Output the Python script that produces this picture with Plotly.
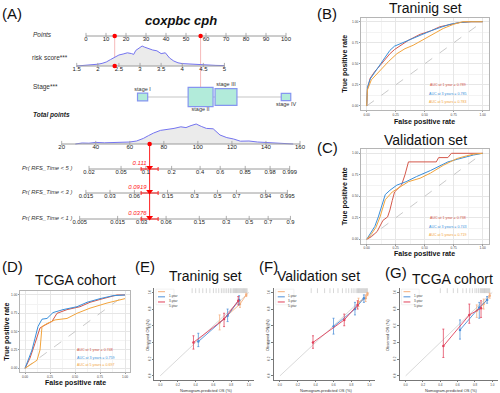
import math
import plotly.graph_objects as go

W, H = 500, 393
FONT = "Liberation Sans"

# ---------------- (A) nomogram data ----------------
points_ticks = [0, 10, 20, 30, 40, 50, 60, 70, 80, 90, 100]
risk_ticks = [1.5, 2, 2.5, 3, 3.5, 4, 4.5, 5]
risk_points_per_unit = 21.1
risk_zero_value = 1.72
risk_density_x = [1.5, 1.7, 1.9, 2.0, 2.1, 2.2, 2.3, 2.4, 2.5, 2.6, 2.7, 2.8, 2.85, 2.9, 3.0, 3.05,
                  3.1, 3.2, 3.3, 3.4, 3.5, 3.6, 3.65, 3.7, 3.8, 3.9, 4.0, 4.2, 4.4, 4.6, 4.8, 5.0]
risk_density_y = [0.0, 0.03, 0.06, 0.09, 0.13, 0.2, 0.32, 0.45, 0.55, 0.6, 0.66, 0.62, 0.58, 0.78, 0.92, 1.0,
                  0.95, 0.86, 0.8, 0.76, 0.62, 0.66, 0.55, 0.4, 0.25, 0.16, 0.12, 0.09, 0.07, 0.05, 0.03, 0.02]
stage_names = ["stage I", "stage II", "stage III", "stage IV"]
stage_points = [28.3, 57.3, 70.0, 100.0]
stage_share = [0.08, 0.48, 0.37, 0.07]
total_ticks = [20, 40, 60, 80, 100, 120, 140, 160]
total_density_x = [28, 32, 36, 40, 45, 50, 55, 60, 64, 68, 71, 74, 78, 82, 86, 90, 93, 96, 99, 102,
                   105, 109, 113, 117, 121, 125, 130, 135, 140, 145, 150, 156]
total_density_y = [0.0, 0.05, 0.04, 0.08, 0.06, 0.08, 0.07, 0.1, 0.15, 0.28, 0.42, 0.55, 0.68, 0.72, 0.78, 0.86,
                   0.82, 0.92, 1.0, 0.88, 0.78, 0.76, 0.45, 0.32, 0.25, 0.14, 0.15, 0.1, 0.07, 0.07, 0.03, 0.0]
patient_risk = 2.4
patient_stage = "stage II"
patient_total_ci = 5.0
prob_row_names = ["Pr( RFS_Time < 5 )", "Pr( RFS_Time < 3 )", "Pr( RFS_Time < 1 )"]
prob_row_pred = [0.111, 0.0919, 0.0376]
prob_row_pred_text = ["0.111", "0.0919", "0.0376"]
prob_row_ticks = [
    [0.02, 0.05, 0.1, 0.2, 0.4, 0.6, 0.85, 0.98, 0.999],
    [0.015, 0.03, 0.06, 0.15, 0.3, 0.5, 0.7, 0.94, 0.995],
    [0.005, 0.015, 0.03, 0.06, 0.15, 0.3, 0.5, 0.7, 0.9],
]
cox_beta_per_total_point = 0.0495

# ---------------- ROC data ----------------
roc_labels = ["AUC at 1 year = ", "AUC at 3 years = ", "AUC at 5 years = "]
# (B) training
b_fpr_1 = [0, 0, 0.006, 0.03, 0.07, 0.115, 0.16, 0.2, 0.24, 0.29, 0.36, 0.46, 0.55, 0.63, 0.72, 0.8, 0.9, 1.0]
b_tpr_1 = [0, 0.1, 0.2, 0.33, 0.41, 0.48, 0.56, 0.62, 0.67, 0.72, 0.78, 0.85, 0.89, 0.94, 0.97, 0.99, 1.0, 1.0]
b_fpr_3 = [0, 0, 0.006, 0.03, 0.07, 0.115, 0.16, 0.2, 0.24, 0.29, 0.36, 0.46, 0.55, 0.63, 0.72, 0.8, 0.9, 1.0]
b_tpr_3 = [0, 0.12, 0.22, 0.32, 0.40, 0.50, 0.58, 0.66, 0.71, 0.74, 0.78, 0.84, 0.89, 0.93, 0.97, 0.99, 1.0, 1.0]
b_fpr_5 = [0, 0, 0.006, 0.04, 0.08, 0.115, 0.19, 0.26, 0.33, 0.4, 0.45, 0.55, 0.66, 0.75, 0.83, 0.9, 1.0]
b_tpr_5 = [0, 0.1, 0.19, 0.31, 0.37, 0.43, 0.53, 0.62, 0.68, 0.72, 0.76, 0.84, 0.92, 0.97, 1.0, 1.0, 1.0]
b_auc = ["0.789", "0.785", "0.783"]
# (C) validation
c_fpr_1 = [0, 0.04, 0.09, 0.14, 0.18, 0.2, 0.22, 0.24, 0.3, 0.33, 0.36, 0.45, 0.6, 0.62, 0.7, 0.73, 1.0]
c_tpr_1 = [0, 0.03, 0.09, 0.22, 0.26, 0.34, 0.45, 0.55, 0.63, 0.75, 0.9, 0.9, 0.9, 0.95, 0.95, 1.0, 1.0]
c_fpr_3 = [0, 0.03, 0.07, 0.1, 0.13, 0.16, 0.2, 0.26, 0.34, 0.43, 0.55, 0.63, 0.7, 0.78, 0.86, 0.92, 1.0]
c_tpr_3 = [0, 0.07, 0.15, 0.26, 0.4, 0.52, 0.57, 0.63, 0.67, 0.73, 0.8, 0.85, 0.9, 0.93, 0.96, 0.98, 1.0]
c_fpr_5 = [0, 0.04, 0.08, 0.115, 0.16, 0.22, 0.29, 0.36, 0.46, 0.55, 0.66, 0.72, 0.78, 0.86, 0.92, 1.0]
c_tpr_5 = [0, 0.06, 0.14, 0.26, 0.46, 0.55, 0.61, 0.67, 0.71, 0.77, 0.86, 0.9, 0.94, 0.97, 0.99, 1.0]
c_auc = ["0.738", "0.743", "0.719"]
# (D) TCGA
d_fpr_1 = [0, 0.05, 0.1, 0.15, 0.2, 0.27, 0.32, 0.42, 0.55, 0.65, 0.78, 0.92, 1.0]
d_tpr_1 = [0, 0.14, 0.34, 0.55, 0.59, 0.64, 0.75, 0.8, 0.84, 0.9, 0.95, 1.0, 1.0]
d_fpr_3 = [0, 0.03, 0.07, 0.1, 0.13, 0.17, 0.22, 0.28, 0.38, 0.52, 0.62, 0.75, 0.88, 1.0]
d_tpr_3 = [0, 0.11, 0.25, 0.41, 0.57, 0.67, 0.68, 0.76, 0.8, 0.84, 0.9, 0.95, 0.99, 1.0]
d_fpr_5 = [0, 0.05, 0.12, 0.15, 0.17, 0.22, 0.3, 0.42, 0.52, 0.65, 0.82, 1.0]
d_tpr_5 = [0, 0.05, 0.11, 0.25, 0.57, 0.61, 0.66, 0.68, 0.75, 0.82, 0.89, 0.95]
d_auc = ["0.748", "0.759", "0.697"]

# ---------------- calibration data ----------------
cal_names = ["1-year", "3-year", "5-year"]
# (E) training: predicted, observed, lower, upper
e_pred = [[0.67, 0.90, 0.97], [0.43, 0.76, 0.89], [0.375, 0.72, 0.88]]
e_obs = [[0.64, 0.86, 0.97], [0.41, 0.72, 0.91], [0.40, 0.68, 0.90]]
e_lo = [[0.55, 0.82, 0.95], [0.35, 0.65, 0.85], [0.32, 0.59, 0.85]]
e_hi = [[0.73, 0.90, 0.99], [0.51, 0.80, 0.96], [0.48, 0.75, 0.95]]
e_rug = [0.36, 0.4, 0.44, 0.48, 0.52, 0.56, 0.6, 0.63, 0.66, 0.69, 0.71, 0.73, 0.75, 0.77, 0.79, 0.8,
         0.82, 0.83, 0.84, 0.85, 0.86, 0.87, 0.88, 0.89, 0.9, 0.91, 0.92, 0.93, 0.94, 0.95, 0.96, 0.97, 0.98]
# (F) validation
f_pred = [[0.88, 0.96, 0.98], [0.60, 0.84, 0.94], [0.37, 0.72, 0.87]]
f_obs = [[0.88, 0.93, 0.98], [0.59, 0.80, 0.93], [0.40, 0.67, 0.85]]
f_lo = [[0.83, 0.89, 0.96], [0.50, 0.73, 0.88], [0.33, 0.60, 0.80]]
f_hi = [[0.93, 0.97, 1.0], [0.69, 0.88, 0.97], [0.48, 0.74, 0.90]]
f_rug = [0.35, 0.42, 0.5, 0.56, 0.6, 0.65, 0.7, 0.74, 0.77, 0.8, 0.82, 0.84, 0.86, 0.87, 0.88, 0.89,
         0.9, 0.91, 0.92, 0.93, 0.94, 0.95, 0.96, 0.97, 0.98]
# (G) TCGA
g_pred = [[0.82, 0.90, 0.97], [0.627, 0.85, 0.94], [0.435, 0.735, 0.87]]
g_obs = [[0.78, 0.86, 0.96], [0.55, 0.82, 0.91], [0.356, 0.73, 0.81]]
g_lo = [[0.70, 0.80, 0.93], [0.44, 0.69, 0.87], [0.22, 0.63, 0.70]]
g_hi = [[0.85, 0.92, 0.99], [0.67, 0.88, 0.95], [0.56, 0.86, 0.90]]
g_rug = [0.4, 0.48, 0.55, 0.6, 0.66, 0.7, 0.74, 0.77, 0.8, 0.82, 0.84, 0.86, 0.87, 0.88, 0.89, 0.9,
         0.91, 0.92, 0.93, 0.94, 0.95, 0.96, 0.97]
cal_ticks = [0.0, 0.2, 0.4, 0.6, 0.8, 1.0]
roc_ticks = [0.0, 0.25, 0.5, 0.75, 1.0]

# ---------------- styling / layout constants ----------------
ROC_COLORS = ["#D4584A", "#3A8FDB", "#F2A43C"]
CAL_COLORS = ["#F5AE7C", "#4C8FD8", "#E0405A"]
CAL_ERR = ["rgba(245,174,124,0.75)", "rgba(76,143,216,0.75)", "rgba(224,64,90,0.75)"]
NOMO_BLUE = "#7474F0"
AXGREY = "#9A9A9A"

ROW_Y = {"points": 36, "risk": 66, "stage": 97, "total": 144}
PROB_ROW_Y = [169, 193, 219]
DENS_H = 20
TOTAL_AXIS_PTS = (-12.15, 107.0)
BOX_SCALE = 36.0


def px(x):
    return x / W


def py(y):
    return 1 - y / H


def risk_to_pts(r):
    return risk_points_per_unit * (r - risk_zero_value)


def total_to_pts(tp):
    lo, hi = TOTAL_AXIS_PTS
    return lo + (tp - total_ticks[0]) * (hi - lo) / (total_ticks[-1] - total_ticks[0])


def cloglog(p):
    return math.log(-math.log(1 - p))


def prob_to_total(p, p_ref, tp_ref):
    return tp_ref + (cloglog(p) - cloglog(p_ref)) / cox_beta_per_total_point


fig = go.Figure()
annotations = []
shapes = []


def ann(x, y, text, size, color="black", xanchor="center", yanchor="middle", angle=0, **kw):
    annotations.append(dict(x=px(x), y=py(y), xref="paper", yref="paper", text=text, showarrow=False,
                            font=dict(family=FONT, size=size, color=color), xanchor=xanchor,
                            yanchor=yanchor, textangle=angle, **kw))


NX = dict(xaxis="x", yaxis="y")


def nline(xs, ys, color=AXGREY, width=1, dash=None):
    fig.add_trace(go.Scatter(x=xs, y=ys, mode="lines", line=dict(color=color, width=width, dash=dash),
                             hoverinfo="skip", showlegend=False, **NX))


def ntext(xs, ys, texts, size=6, color="#222"):
    fig.add_trace(go.Scatter(x=xs, y=ys, mode="text", text=texts,
                             textfont=dict(family=FONT, size=size, color=color),
                             hoverinfo="skip", showlegend=False, **NX))


def nticks(xs, y):
    fig.add_trace(go.Scatter(x=xs, y=[y - 1] * len(xs), mode="markers",
                             marker=dict(symbol="line-ns", size=3, line=dict(color=AXGREY, width=0.8)),
                             hoverinfo="skip", showlegend=False, **NX))


def density(xs_pts, heights, base):
    top = [base - DENS_H * h for h in heights]
    fig.add_trace(go.Scatter(x=xs_pts + xs_pts[::-1], y=top + [base] * len(xs_pts), mode="lines",
                             fill="toself", fillcolor="#EBEBEB", line=dict(width=0),
                             hoverinfo="skip", showlegend=False, **NX))
    nline(xs_pts, top, color=NOMO_BLUE, width=1)


# ---- patient values
p_risk_pts = risk_to_pts(patient_risk)
p_stage_pts = stage_points[stage_names.index(patient_stage)]
p_total = p_risk_pts + p_stage_pts
p_total_pts = total_to_pts(p_total)

# pink guide lines
nline([p_risk_pts, p_risk_pts], [ROW_Y["points"], ROW_Y["risk"]], color="#F6B9B9", width=1)
nline([p_stage_pts, p_stage_pts], [ROW_Y["points"], ROW_Y["stage"]], color="#F6B9B9", width=1)

# Points axis
nline([points_ticks[0], points_ticks[-1]], [ROW_Y["points"]] * 2)
nticks(points_ticks, ROW_Y["points"])
ntext(points_ticks, [ROW_Y["points"] + 3.5] * len(points_ticks), [str(t) for t in points_ticks])

# risk score
density([risk_to_pts(v) for v in risk_density_x], risk_density_y, ROW_Y["risk"])
rpts = [risk_to_pts(v) for v in risk_ticks]
nline([rpts[0], rpts[-1]], [ROW_Y["risk"]] * 2)
nticks(rpts, ROW_Y["risk"])
ntext(rpts, [ROW_Y["risk"] + 3.5] * len(rpts), [f"{t:g}" for t in risk_ticks])

# stage
nline([stage_points[0], stage_points[-1]], [ROW_Y["stage"]] * 2, color="#E2E2E2", width=2)
for i, (nm, sp, sh) in enumerate(zip(stage_names, stage_points, stage_share)):
    w = BOX_SCALE * math.sqrt(sh)
    h = 0.77 * w
    shapes.append(dict(type="rect", xref="x", yref="y", x0=sp - w / 4, x1=sp + w / 4,
                       y0=ROW_Y["stage"] - h / 2, y1=ROW_Y["stage"] + h / 2,
                       fillcolor="#B2EBDA", line=dict(color="#8595F0", width=1.2), layer="above"))
    ly = ROW_Y["stage"] - h / 2 - 3.5 if i % 2 == 0 else ROW_Y["stage"] + h / 2 + 3.5
    ntext([sp], [ly], [nm], size=5.5, color="#333")
fig.add_trace(go.Scatter(x=stage_points, y=[ROW_Y["stage"]] * 4, mode="markers",
                         marker=dict(size=1.8, color="#555"), hoverinfo="skip", showlegend=False, **NX))

# total points
density([total_to_pts(v) for v in total_density_x], total_density_y, ROW_Y["total"])
tpts = [total_to_pts(v) for v in total_ticks]
nline([tpts[0], tpts[-1]], [ROW_Y["total"]] * 2)
nticks(tpts, ROW_Y["total"])
ntext(tpts, [ROW_Y["total"] + 3.5] * len(tpts), [str(t) for t in total_ticks])

# probability rows
nline([p_total_pts, p_total_pts], [ROW_Y["total"], PROB_ROW_Y[-1]], color="#FF2020", width=1)
for ticks, yrow, pred, ptxt in zip(prob_row_ticks, PROB_ROW_Y, prob_row_pred, prob_row_pred_text):
    xs = [total_to_pts(prob_to_total(t, pred, p_total)) for t in ticks]
    nline([xs[0], xs[-1]], [yrow] * 2)
    nticks(xs, yrow)
    ntext(xs, [yrow + 3.5] * len(xs), [f"{t:g}" for t in ticks], size=5.8)
    lo = total_to_pts(p_total - patient_total_ci)
    hi = total_to_pts(p_total + patient_total_ci)
    nline([lo, hi], [yrow] * 2, color="#FF2020", width=1)
    for e in (lo, hi):
        nline([e, e], [yrow - 2, yrow + 2], color="#FF2020", width=1)
    fig.add_trace(go.Scatter(x=[p_total_pts], y=[yrow - 1.5], mode="markers",
                             marker=dict(symbol="triangle-down", size=6, color="#FF0000"),
                             hoverinfo="skip", showlegend=False, **NX))
    fig.add_trace(go.Scatter(x=[p_total_pts - 1.5], y=[yrow - 6], mode="text", text=[f"<i>{ptxt}</i>"],
                             textposition="middle left",
                             textfont=dict(family=FONT, size=6, color="#FF2020"),
                             hoverinfo="skip", showlegend=False, **NX))

# red patient points
fig.add_trace(go.Scatter(x=[p_risk_pts, p_stage_pts, p_risk_pts, p_stage_pts, p_total_pts],
                         y=[ROW_Y["points"], ROW_Y["points"], ROW_Y["risk"], ROW_Y["stage"], ROW_Y["total"]],
                         mode="markers", marker=dict(size=4.5, color="#FF0000"),
                         hoverinfo="skip", showlegend=False, **NX))

# row labels
ann(31, ROW_Y["points"] - 1, "<i>Points</i>", 6.5, "#333", xanchor="left")
ann(30, 57, "risk score***", 6.5, "#333", xanchor="left")
ann(31, 87, "Stage***", 6.5, "#333", xanchor="left")
ann(31, 115, "<b><i>Total points</i></b>", 6.5, "#222", xanchor="left")
for nm, yrow in zip(prob_row_names, PROB_ROW_Y):
    ann(20, yrow - 1, f"<i>{nm}</i>", 5.8, "#333", xanchor="left")
ann(181, 20, "<b><i>coxpbc cph</i></b>", 13, "#111")

# ---------------- layout axes ----------------
layout_axes = {}
layout_axes["xaxis"] = dict(domain=[0, px(330)], range=[-43, 122], visible=False, fixedrange=True)
layout_axes["yaxis"] = dict(domain=[py(260), 1], range=[260, 0], visible=False, fixedrange=True)


def roc_panel(idx, frame, curves, aucs, ytitle_x, xtitle_y):
    x0, x1, y0, y1 = frame
    xa, ya = f"x{idx}", f"y{idx}"
    common = dict(range=[-0.05, 1.05], tickvals=roc_ticks, ticktext=[f"{t:.2f}" for t in roc_ticks],
                  tickfont=dict(family=FONT, size=3.2, color="#444"), showgrid=True, gridcolor="#E6E6E6",
                  gridwidth=0.6, minor=dict(tickvals=[0.125, 0.375, 0.625, 0.875], showgrid=True,
                                            gridcolor="#F3F3F3", gridwidth=0.5),
                  showline=True, mirror=True, linecolor="#B5B5B5", linewidth=0.7, zeroline=False,
                  ticks="outside", ticklen=1.2, tickcolor="#999", automargin=False, fixedrange=True)
    layout_axes[f"xaxis{idx}"] = dict(domain=[px(x0), px(x1)], anchor=ya, **common)
    layout_axes[f"yaxis{idx}"] = dict(domain=[py(y1), py(y0)], anchor=xa, **common)
    fig.add_trace(go.Scatter(x=[0, 1], y=[0, 1], mode="lines", line=dict(color="#BBBBBB", width=0.8, dash="dash"),
                             xaxis=xa, yaxis=ya, hoverinfo="skip", showlegend=False))
    for (fx, ty), col in zip(curves, ROC_COLORS):
        fig.add_trace(go.Scatter(x=fx, y=ty, mode="lines", line=dict(color=col, width=1),
                                 xaxis=xa, yaxis=ya, hoverinfo="skip", showlegend=False))
    for k, (lab, a, col) in enumerate(zip(roc_labels, aucs, ROC_COLORS)):
        annotations.append(dict(x=0.70, y=0.245 - 0.1 * k, xref=xa, yref=ya, text=lab + a, showarrow=False,
                                font=dict(family=FONT, size=3.6, color=col)))
    ann((x0 + x1) / 2, xtitle_y, "<b>False positive rate</b>", 7, "#111")
    ann(ytitle_x, (y0 + y1) / 2, "<b>True positive rate</b>", 7, "#111", angle=-90)


roc_panel(2, (360.9, 488.5, 17.5, 110.2), [(b_fpr_1, b_tpr_1), (b_fpr_3, b_tpr_3), (b_fpr_5, b_tpr_5)],
          b_auc, 345, 122)
roc_panel(3, (360.9, 488.5, 149.0, 243.6), [(c_fpr_1, c_tpr_1), (c_fpr_3, c_tpr_3), (c_fpr_5, c_tpr_5)],
          c_auc, 345, 254)
roc_panel(4, (20.0, 130.0, 291.3, 372.0), [(d_fpr_1, d_tpr_1), (d_fpr_3, d_tpr_3), (d_fpr_5, d_tpr_5)],
          d_auc, 7, 383)


def cal_panel(idx, frame, pred, obs, lo, hi, rug, ytitle_x):
    x0, x1, y0, y1 = frame
    xa, ya = f"x{idx}", f"y{idx}"
    common = dict(tickvals=cal_ticks, ticktext=[f"{t:.1f}" for t in cal_ticks],
                  tickfont=dict(family=FONT, size=3, color="#444"), showgrid=False, zeroline=False,
                  showline=True, linecolor="#777", linewidth=0.6, ticks="outside", ticklen=1.5,
                  tickcolor="#777", tickwidth=0.5, automargin=False, fixedrange=True)
    layout_axes[f"xaxis{idx}"] = dict(domain=[px(x0), px(x1)], range=[-0.07, 1.06], anchor=ya, **common)
    layout_axes[f"yaxis{idx}"] = dict(domain=[py(y1), py(y0)], range=[-0.05, 1.05], anchor=xa,
                                      tickangle=-90, **common)
    fig.add_trace(go.Scatter(x=[0, 1], y=[0, 1], mode="lines", line=dict(color="#C8C8C8", width=0.7),
                             xaxis=xa, yaxis=ya, hoverinfo="skip", showlegend=False))
    fig.add_trace(go.Scatter(x=rug, y=[1.025] * len(rug), mode="markers",
                             marker=dict(symbol="line-ns", size=4, line=dict(color="#9A9A9A", width=0.4)),
                             xaxis=xa, yaxis=ya, hoverinfo="skip", showlegend=False))
    for k in range(3):
        fig.add_trace(go.Scatter(
            x=pred[k], y=obs[k], mode="lines+markers",
            line=dict(color=CAL_COLORS[k], width=0.9),
            marker=dict(size=2.5, color=CAL_COLORS[k]),
            error_y=dict(type="data", symmetric=False,
                         array=[h - o for h, o in zip(hi[k], obs[k])],
                         arrayminus=[o - l for o, l in zip(obs[k], lo[k])],
                         color=CAL_ERR[k], thickness=1, width=1),
            xaxis=xa, yaxis=ya, hoverinfo="skip", showlegend=False))
    # legend
    shapes.append(dict(type="rect", xref=f"{xa} domain", yref=f"{ya} domain", x0=0.02, x1=0.2,
                       y0=0.82, y1=0.99, line=dict(color="#E4E4E4", width=0.5), fillcolor="rgba(255,255,255,0)"))
    for k, nm in enumerate(cal_names):
        yy = 0.962 - 0.056 * k
        shapes.append(dict(type="line", xref=f"{xa} domain", yref=f"{ya} domain", x0=0.04, x1=0.11,
                           y0=yy, y1=yy, line=dict(color=CAL_COLORS[k], width=1)))
        annotations.append(dict(x=0.125, y=yy, xref=f"{xa} domain", yref=f"{ya} domain", text=nm,
                                showarrow=False, xanchor="left",
                                font=dict(family=FONT, size=3, color="#444")))
    ann((x0 + x1) / 2 + 2, 390, "Nomogram-predicted OS (%)", 4, "#333")
    ann(ytitle_x, 335, "Observed OS (%)", 4, "#333", angle=-90)


cal_panel(5, (154.0, 254.2, 288.2, 380.0), e_pred, e_obs, e_lo, e_hi, e_rug, 147)
cal_panel(6, (273.7, 374.6, 288.2, 380.0), f_pred, f_obs, f_lo, f_hi, f_rug, 267)
cal_panel(7, (399.6, 497.5, 288.2, 380.0), g_pred, g_obs, g_lo, g_hi, g_rug, 387)

# panel letters and titles
for lab, x, y in [("(A)", 12, 14), ("(B)", 327, 14), ("(C)", 327, 147), ("(D)", 12, 266),
                  ("(E)", 145, 266), ("(F)", 268, 266), ("(G)", 396, 272)]:
    ann(x, y, lab, 15, "#111")
for t, x, y in [("Traninig set", 425, 8), ("Validation set", 425, 140), ("TCGA cohort", 75, 280),
                ("Traninig set", 205, 276), ("Validation set", 318, 276), ("TCGA cohort", 452, 279)]:
    ann(x, y, t, 14, "#111")

fig.update_layout(width=W, height=H, margin=dict(l=0, r=0, t=0, b=0), paper_bgcolor="white",
                  plot_bgcolor="white", showlegend=False, annotations=annotations, shapes=shapes,
                  font=dict(family=FONT), **layout_axes)
fig.write_html("out.html", config={"displayModeBar": False},
               post_script="document.body.style.margin='0';document.body.style.padding='0';")
